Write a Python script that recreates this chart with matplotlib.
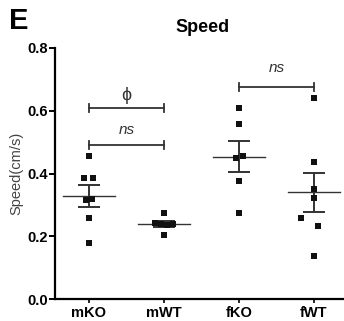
import numpy as np
import matplotlib.pyplot as plt

plt.rcParams['font.family'] = ['Liberation Sans', 'DejaVu Sans']

groups = ['mKO', 'mWT', 'fKO', 'fWT']
mko = [0.455, 0.387, 0.387, 0.315, 0.320, 0.258, 0.178]
mwt = [0.273, 0.243, 0.238, 0.236, 0.240, 0.204]
fko = [0.610, 0.557, 0.450, 0.457, 0.377, 0.273]
fwt = [0.642, 0.437, 0.350, 0.323, 0.257, 0.234, 0.138]
valeurs = [mko, mwt, fko, fwt]

# decalage horizontal des points (comme Prism)
decal = [[0, -0.06, 0.06, -0.04, 0.04, 0, 0],
         [0, -0.12, -0.04, 0.04, 0.12, 0],
         [0, 0, -0.04, 0.06, 0, 0],
         [0, 0, 0, 0, -0.17, 0.05, 0]]

sem = [np.std(v, ddof=1) / np.sqrt(len(v)) for v in valeurs]
moy = [np.mean(v) for v in valeurs]

fig = plt.figure(figsize=(3.44, 3.21), dpi=100)
ax = fig.add_axes([0.160, 0.0685, 0.84, 0.782])
gris = '#333333'

for i, v in enumerate(valeurs):
    x = np.full(len(v), i) + np.array(decal[i])
    ax.scatter(x, v, marker='s', s=14, color='#111111', zorder=3, linewidths=0)
    ax.plot([i - 0.35, i + 0.35], [moy[i], moy[i]], color=gris, lw=1.0, zorder=2)
    ax.errorbar(i, moy[i], yerr=sem[i], color=gris, lw=1.4, capsize=8,
                capthick=1.4, zorder=2)

# crochets de comparaison
def crochet(x1, x2, y, txt, dy, taille=11, italique=True):
    ax.plot([x1, x2], [y, y], color=gris, lw=1.3)
    for xx in (x1, x2):
        ax.plot([xx, xx], [y - 0.012, y + 0.012], color=gris, lw=1.3)
    ax.text((x1 + x2) / 2, y + dy, txt, ha='center', va='bottom', fontsize=taille,
            style='italic' if italique else 'normal', color=gris)

crochet(0, 1, 0.49, 'ns', 0.025)
crochet(0, 1, 0.608, 'ϕ', 0.015, taille=13, italique=False)
crochet(2, 3, 0.675, 'ns', 0.04)

ax.set_xlim(-0.45, 3.4)
ax.set_ylim(0, 0.8)
ax.set_yticks([0.0, 0.2, 0.4, 0.6, 0.8])
ax.set_yticklabels(['0.0', '0.2', '0.4', '0.6', '0.8'], fontsize=10.5, fontweight='bold')
ax.set_xticks(range(4))
ax.set_xticklabels(groups, fontsize=10.5, fontweight='bold')
ax.set_ylabel('Speed(cm/s)', fontsize=10.5, labelpad=3, color='#444444')
ax.spines['top'].set_visible(False)
ax.spines['right'].set_visible(False)
ax.spines['left'].set_linewidth(1.6)
ax.spines['bottom'].set_linewidth(1.6)
ax.tick_params(axis='y', length=4, width=1.4, pad=1)
ax.tick_params(axis='x', length=3, width=1.2, pad=2)

fig.text(0.59, 0.915, 'Speed', ha='center', va='center', fontsize=13, fontweight='bold')
fig.text(0.025, 0.935, 'E', ha='left', va='center', fontsize=21, fontweight='bold')

plt.savefig('out.png', dpi=100)
